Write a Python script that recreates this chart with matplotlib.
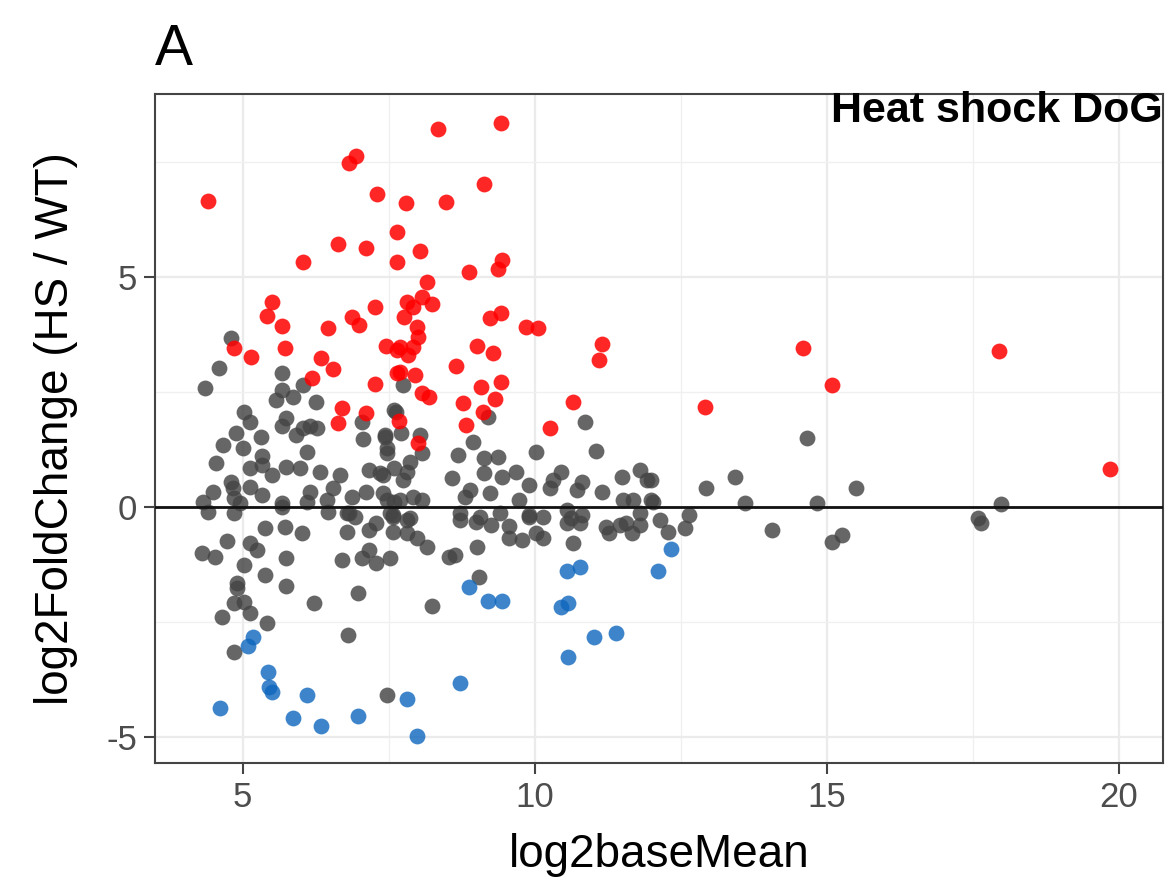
import matplotlib.pyplot as plt
from matplotlib.ticker import MultipleLocator

plt.rcParams['font.family'] = ['Liberation Sans', 'DejaVu Sans']
plt.rcParams['axes.unicode_minus'] = False

# ------------------------------
# Data
# ------------------------------
# up-regulated (red)
up_x = [4.40, 8.34, 9.43, 6.82, 6.95, 7.31, 7.79, 8.48, 9.13, 7.65, 6.63, 7.12, 8.03, 7.64,
        6.04, 8.15, 8.08, 8.25, 7.81, 7.91, 7.76, 7.98, 7.26, 6.88, 6.99, 5.51, 5.41, 5.68,
        6.46, 8.87, 9.37, 9.45, 9.23, 9.43, 9.86, 10.05, 4.86, 5.15, 5.72, 7.45, 7.64, 6.35,
        6.54, 6.18, 7.26, 7.64, 6.71, 6.63, 7.12, 11.16, 11.10, 9.01, 9.28, 8.65, 9.09, 9.42,
        9.33, 8.77, 9.11, 8.82, 10.65, 10.26, 8.08, 8.20, 7.69, 7.95, 7.69, 7.83, 7.91, 8.00,
        7.67, 8.00, 14.59, 15.09, 12.91, 17.96, 19.86]
up_y = [6.65, 8.22, 8.35, 7.48, 7.63, 6.80, 6.61, 6.63, 7.02, 5.98, 5.72, 5.63, 5.57, 5.33,
        5.33, 4.89, 4.57, 4.41, 4.46, 4.35, 4.13, 3.91, 4.35, 4.13, 3.96, 4.46, 4.15, 3.93,
        3.89, 5.11, 5.17, 5.37, 4.11, 4.22, 3.91, 3.89, 3.46, 3.26, 3.46, 3.50, 3.41, 3.24,
        3.00, 2.80, 2.67, 2.91, 2.15, 1.83, 2.04, 3.54, 3.20, 3.50, 3.35, 3.07, 2.61, 2.72,
        2.35, 2.26, 2.07, 1.78, 2.28, 1.72, 2.48, 2.39, 2.93, 2.87, 3.48, 3.30, 3.48, 3.70,
        1.87, 1.39, 3.46, 2.65, 2.17, 3.39, 0.83]

# down-regulated (blue)
down_x = [5.17, 5.09, 5.43, 5.46, 5.50, 4.62, 6.11, 5.86, 6.34, 6.97, 7.81, 7.99, 12.33,
          12.11, 10.55, 10.77, 8.87, 9.21, 9.45, 10.45, 10.58, 11.01, 11.39, 10.57, 8.72]
down_y = [-2.83, -3.02, -3.59, -3.91, -4.02, -4.37, -4.09, -4.59, -4.76, -4.54, -4.17, -4.98,
          -0.91, -1.39, -1.39, -1.30, -1.74, -2.04, -2.04, -2.17, -2.09, -2.83, -2.74, -3.26,
          -3.83]

# not significant (grey)
ns_x = [4.81, 4.59, 4.35, 5.68, 6.03, 5.67, 5.86, 5.58, 6.25, 5.03, 5.12, 5.75, 5.67, 6.03,
        6.15, 6.28, 5.92, 4.88, 5.31, 7.05, 7.07, 4.66, 5.00, 6.10, 4.54, 5.33, 5.33, 5.12,
        5.50, 5.75, 5.98, 6.32, 6.66, 7.17, 7.35, 7.43, 7.47, 7.62, 4.81, 4.49, 4.83, 5.12,
        4.86, 4.32, 4.40, 4.86, 4.95, 5.34, 5.68, 6.10, 6.15, 6.44, 6.54, 6.88, 7.12, 7.40,
        7.60, 5.38, 5.72, 6.78, 6.92, 7.29, 7.52,
        5.68, 6.46, 6.83, 6.01, 6.78, 7.17, 7.57, 7.81, 7.98, 8.15, 7.86, 7.57, 4.74, 4.30,
        4.52, 5.12, 5.24, 5.03, 5.75, 6.71, 7.05, 7.29, 7.52, 7.17, 8.54, 5.38, 4.90, 4.91,
        5.75, 4.86, 5.03, 4.64, 5.12, 6.23, 6.97, 8.24, 5.41, 4.86, 6.80, 7.48,
        9.04, 8.63, 9.02, 10.65, 8.72, 9.00, 9.26, 9.57, 9.57, 9.78, 10.03, 10.14, 9.91, 10.55,
        10.77, 11.28, 11.46, 11.66, 11.80, 12.28, 12.65,
        14.67, 13.44, 12.93, 15.51, 13.60, 14.83, 17.99, 17.59, 17.64, 14.06, 15.26, 15.10,
        12.57, 12.00, 12.02,
        7.60, 7.72, 7.43, 8.03, 8.08, 7.47, 7.86, 7.60, 7.81, 7.40, 7.74, 8.94, 8.68, 9.14,
        9.37, 10.03, 10.86, 11.05, 9.14, 8.58, 9.45, 9.69, 9.91, 10.46, 10.31, 10.26, 10.82,
        10.72, 11.16, 11.49, 11.80, 11.92, 11.51, 11.68, 12.00, 12.14, 8.89, 9.23, 8.81, 8.72,
        9.06, 9.40, 9.74, 9.91, 10.14, 10.55, 10.63, 10.82, 11.23, 11.57, 11.80, 8.08, 7.69,
        7.91, 7.47, 7.57, 7.81, 9.20, 7.74]
ns_y = [3.67, 3.02, 2.59, 2.91, 2.65, 2.54, 2.39, 2.33, 2.28, 2.07, 1.85, 1.93, 1.76, 1.72,
        1.76, 1.72, 1.57, 1.61, 1.52, 1.85, 1.48, 1.35, 1.28, 1.20, 0.96, 1.11, 0.91, 0.85,
        0.70, 0.87, 0.85, 0.76, 0.70, 0.80, 0.74, 1.57, 1.17, 2.07, 0.54, 0.33, 0.41, 0.43,
        0.20, 0.11, -0.11, -0.13, 0.09, 0.26, 0.09, 0.11, 0.33, 0.15, 0.41, 0.22, 0.33, 0.30,
        0.11, -0.46, -0.43, -0.13, -0.22, -0.35, -0.13,
        0.00, -0.11, -0.13, -0.57, -0.54, -0.50, -0.54, -0.57, -0.67, -0.87, -0.24, -0.17,
        -0.74, -1.00, -1.09, -0.78, -0.93, -1.26, -1.11, -1.15, -1.11, -1.22, -1.11, -0.93,
        -1.09, -1.48, -1.65, -1.76, -1.72, -2.09, -2.07, -2.39, -2.30, -2.09, -1.87, -2.15,
        -2.52, -3.15, -2.78, -4.09,
        -1.52, -1.04, -0.87, -0.78, -0.28, -0.33, -0.39, -0.41, -0.67, -0.72, -0.57, -0.67,
        -0.22, -0.35, -0.35, -0.57, -0.39, -0.57, -0.39, -0.54, -0.17,
        1.50, 0.65, 0.41, 0.41, 0.09, 0.09, 0.07, -0.24, -0.35, -0.50, -0.61, -0.76,
        -0.46, 0.59, 0.11,
        2.11, 1.61, 1.52, 1.57, 1.17, 1.28, 0.98, 0.85, 0.76, 0.70, 0.59, 1.41, 1.13, 1.07,
        1.09, 1.20, 1.85, 1.22, 0.74, 0.63, 0.65, 0.76, 0.48, 0.76, 0.59, 0.41, 0.54,
        0.37, 0.33, 0.65, 0.80, 0.59, 0.15, 0.15, 0.15, -0.28, 0.37, 0.30, 0.22, -0.13,
        -0.22, -0.13, 0.15, -0.17, -0.22, -0.07, -0.24, -0.17, -0.43, -0.35, -0.13, 0.15, 0.15,
        0.22, 0.15, -0.22, -0.28, 1.96, 2.65]

x_ticks = [5, 10, 15, 20]
y_ticks = [-5, 0, 5]

# ------------------------------
# Plot
# ------------------------------
fig = plt.figure(figsize=(11.68, 8.84), dpi=100)
ax = fig.add_axes([0.1327, 0.137, 0.863, 0.7567])

pt_size = 130
ax.scatter(ns_x, ns_y, s=pt_size, color="#444444", alpha=0.82, linewidths=0, zorder=2)
ax.scatter(up_x, up_y, s=pt_size, color="#FF0000", alpha=0.85, linewidths=0, zorder=2)
ax.scatter(down_x, down_y, s=pt_size, color="#0E66BD", alpha=0.8, linewidths=0, zorder=2)

ax.axhline(0, color="#111111", lw=2.0, zorder=3)

ax.set_xlim(3.5, 20.76)
ax.set_ylim(-5.57, 8.98)
ax.set_xticks(x_ticks)
ax.set_yticks(y_ticks)
ax.xaxis.set_minor_locator(MultipleLocator(2.5))
ax.yaxis.set_minor_locator(MultipleLocator(2.5))

ax.grid(which="major", color="#EBEBEB", lw=1.6, zorder=0)
ax.grid(which="minor", color="#F0F0F0", lw=1.0, zorder=0)
ax.set_axisbelow(True)

for sp in ax.spines.values():
    sp.set_color("#444444")
    sp.set_linewidth(1.5)

ax.tick_params(which="major", length=8, width=1.5, color="#444444",
               labelsize=25, labelcolor="#4D4D4D", pad=5)
ax.tick_params(which="minor", length=0)

ax.set_xlabel("log2baseMean", fontsize=33, labelpad=14)
ax.set_ylabel("log2FoldChange (HS / WT)", fontsize=33, labelpad=20)

ax.text(1.0, 1.005, "Heat shock DoG", transform=ax.transAxes, ha="right", va="top",
        fontsize=31, fontweight="bold", zorder=5)

fig.text(0.133, 0.926, "A", fontsize=41, ha="left", va="baseline")

fig.savefig("out.png", dpi=100)
